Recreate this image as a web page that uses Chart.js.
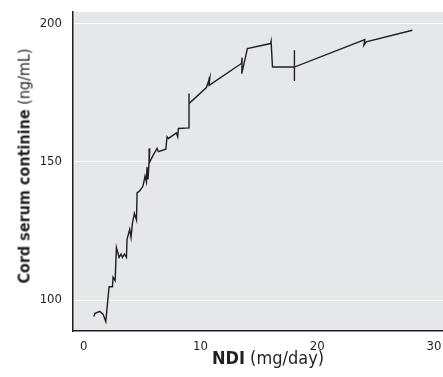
<!DOCTYPE html>
<html lang="en">
<head>
  <meta charset="UTF-8" />
  <title>Cord serum cotinine vs NDI</title>
  <script src="https://cdn.jsdelivr.net/npm/chart.js"></script>
  <style>
    body {
      margin: 0;
      background: #ffffff;
      font-family: "Liberation Sans Narrow", "DejaVu Sans Condensed", Arial, sans-serif;
    }

    .wrap {
      position: relative;
      width: 443px;
      height: 377px;
    }

    canvas {
      position: absolute;
      left: 0;
      top: 0;
    }

    .xtitle {
      position: absolute;
      left: 268px;
      top: 347px;
      transform: translateX(-50%);
      white-space: nowrap;
      font-size: 18px;
      color: #231f20;
    }

    .ytitle {
      position: absolute;
      left: 24px;
      top: 166px;
      transform: translate(-50%, -50%) rotate(-90deg);
      white-space: nowrap;
      font-size: 16px;
      color: #231f20;
    }
  </style>
</head>
<body>
  <div class="wrap">
    <canvas id="chart" width="443" height="377"></canvas>
    <div class="ytitle"><b>Cord serum continine</b> (ng/mL)</div>
    <div class="xtitle"><b>NDI</b> (mg/day)</div>
  </div>

  <script>
    // NDI (mg/day) and cord serum cotinine (ng/mL)
    const ndi = [0.86, 0.97, 1.37, 1.65, 1.89, 2.17, 2.46, 2.51, 2.69, 2.80, 3.03, 3.20, 3.31, 3.49, 3.66,
      3.71, 3.94, 4.05, 4.17, 4.34, 4.52, 4.57, 4.80, 5.08, 5.25, 5.37, 5.42, 5.51, 5.66, 5.60, 5.94,
      6.28, 6.40, 7.03, 7.14, 7.26, 7.94, 8.05, 8.11, 9.02, 9.02, 9.02, 10.51, 10.80, 10.74, 13.51,
      13.57, 13.54, 14.02, 16.00, 16.05, 16.17, 18.05, 18.05, 18.05, 18.05, 24.08, 24.00, 24.20, 28.16];
    const cotinine = [94.0, 95.2, 95.9, 94.9, 92.2, 104.8, 104.8, 108.2, 107.0, 119.0, 115.4, 116.6, 115.4, 116.6, 115.4,
      121.9, 125.5, 122.6, 127.7, 131.3, 128.9, 138.7, 139.5, 141.2, 144.8, 142.7, 148.1, 143.6, 154.8, 149.4, 152.3,
      154.8, 153.6, 154.5, 159.0, 158.4, 160.4, 159.0, 162.0, 162.2, 174.6, 171.0, 176.8, 180.4, 177.6, 185.5,
      187.6, 181.8, 190.9, 192.7, 193.6, 184.2, 184.2, 190.3, 179.2, 184.2, 194.1, 192.1, 193.3, 197.5];

    const xTicks = [0, 10, 20, 30];
    const yTicks = [100, 150, 200];

    const points = ndi.map((x, i) => ({ x: x, y: cotinine[i] }));

    // grey plot area
    const plotBg = {
      id: 'plotBg',
      beforeDraw(chart) {
        const a = chart.chartArea;
        const ctx = chart.ctx;
        ctx.save();
        ctx.fillStyle = '#e6e7e8';
        ctx.fillRect(a.left, a.top, a.right - a.left, a.bottom - a.top);
        ctx.restore();
      }
    };

    const tickFont = { family: '"Liberation Sans Narrow", "DejaVu Sans Condensed", Arial', size: 13 };

    new Chart(document.getElementById('chart'), {
      type: 'scatter',
      data: {
        datasets: [{
          data: points,
          showLine: true,
          borderColor: '#231f20',
          borderWidth: 1.4,
          pointRadius: 0,
          tension: 0
        }]
      },
      options: {
        responsive: false,
        animation: false,
        layout: { padding: { top: 12, right: 0, left: 0, bottom: 0 } },
        plugins: { legend: { display: false }, tooltip: { enabled: false } },
        scales: {
          x: {
            type: 'linear',
            min: -0.92,
            max: 30.78,
            afterBuildTicks: (s) => { s.ticks = xTicks.map(v => ({ value: v })); },
            afterFit: (s) => { s.height = 46; s.paddingLeft = 0; s.paddingRight = 0; },
            grid: { display: false, drawTicks: false },
            border: { display: true, color: '#231f20', width: 1.5 },
            ticks: { color: '#231f20', padding: 8, maxRotation: 0, font: tickFont }
          },
          y: {
            min: 88.8,
            max: 204.1,
            afterBuildTicks: (s) => { s.ticks = yTicks.map(v => ({ value: v })); },
            afterFit: (s) => { s.width = 73; s.paddingTop = 0; s.paddingBottom = 0; },
            grid: { color: '#ffffff', lineWidth: 1, drawTicks: false },
            border: { display: true, color: '#231f20', width: 1.5 },
            ticks: { color: '#231f20', padding: 11, font: tickFont }
          }
        }
      },
      plugins: [plotBg]
    });
  </script>
</body>
</html>
